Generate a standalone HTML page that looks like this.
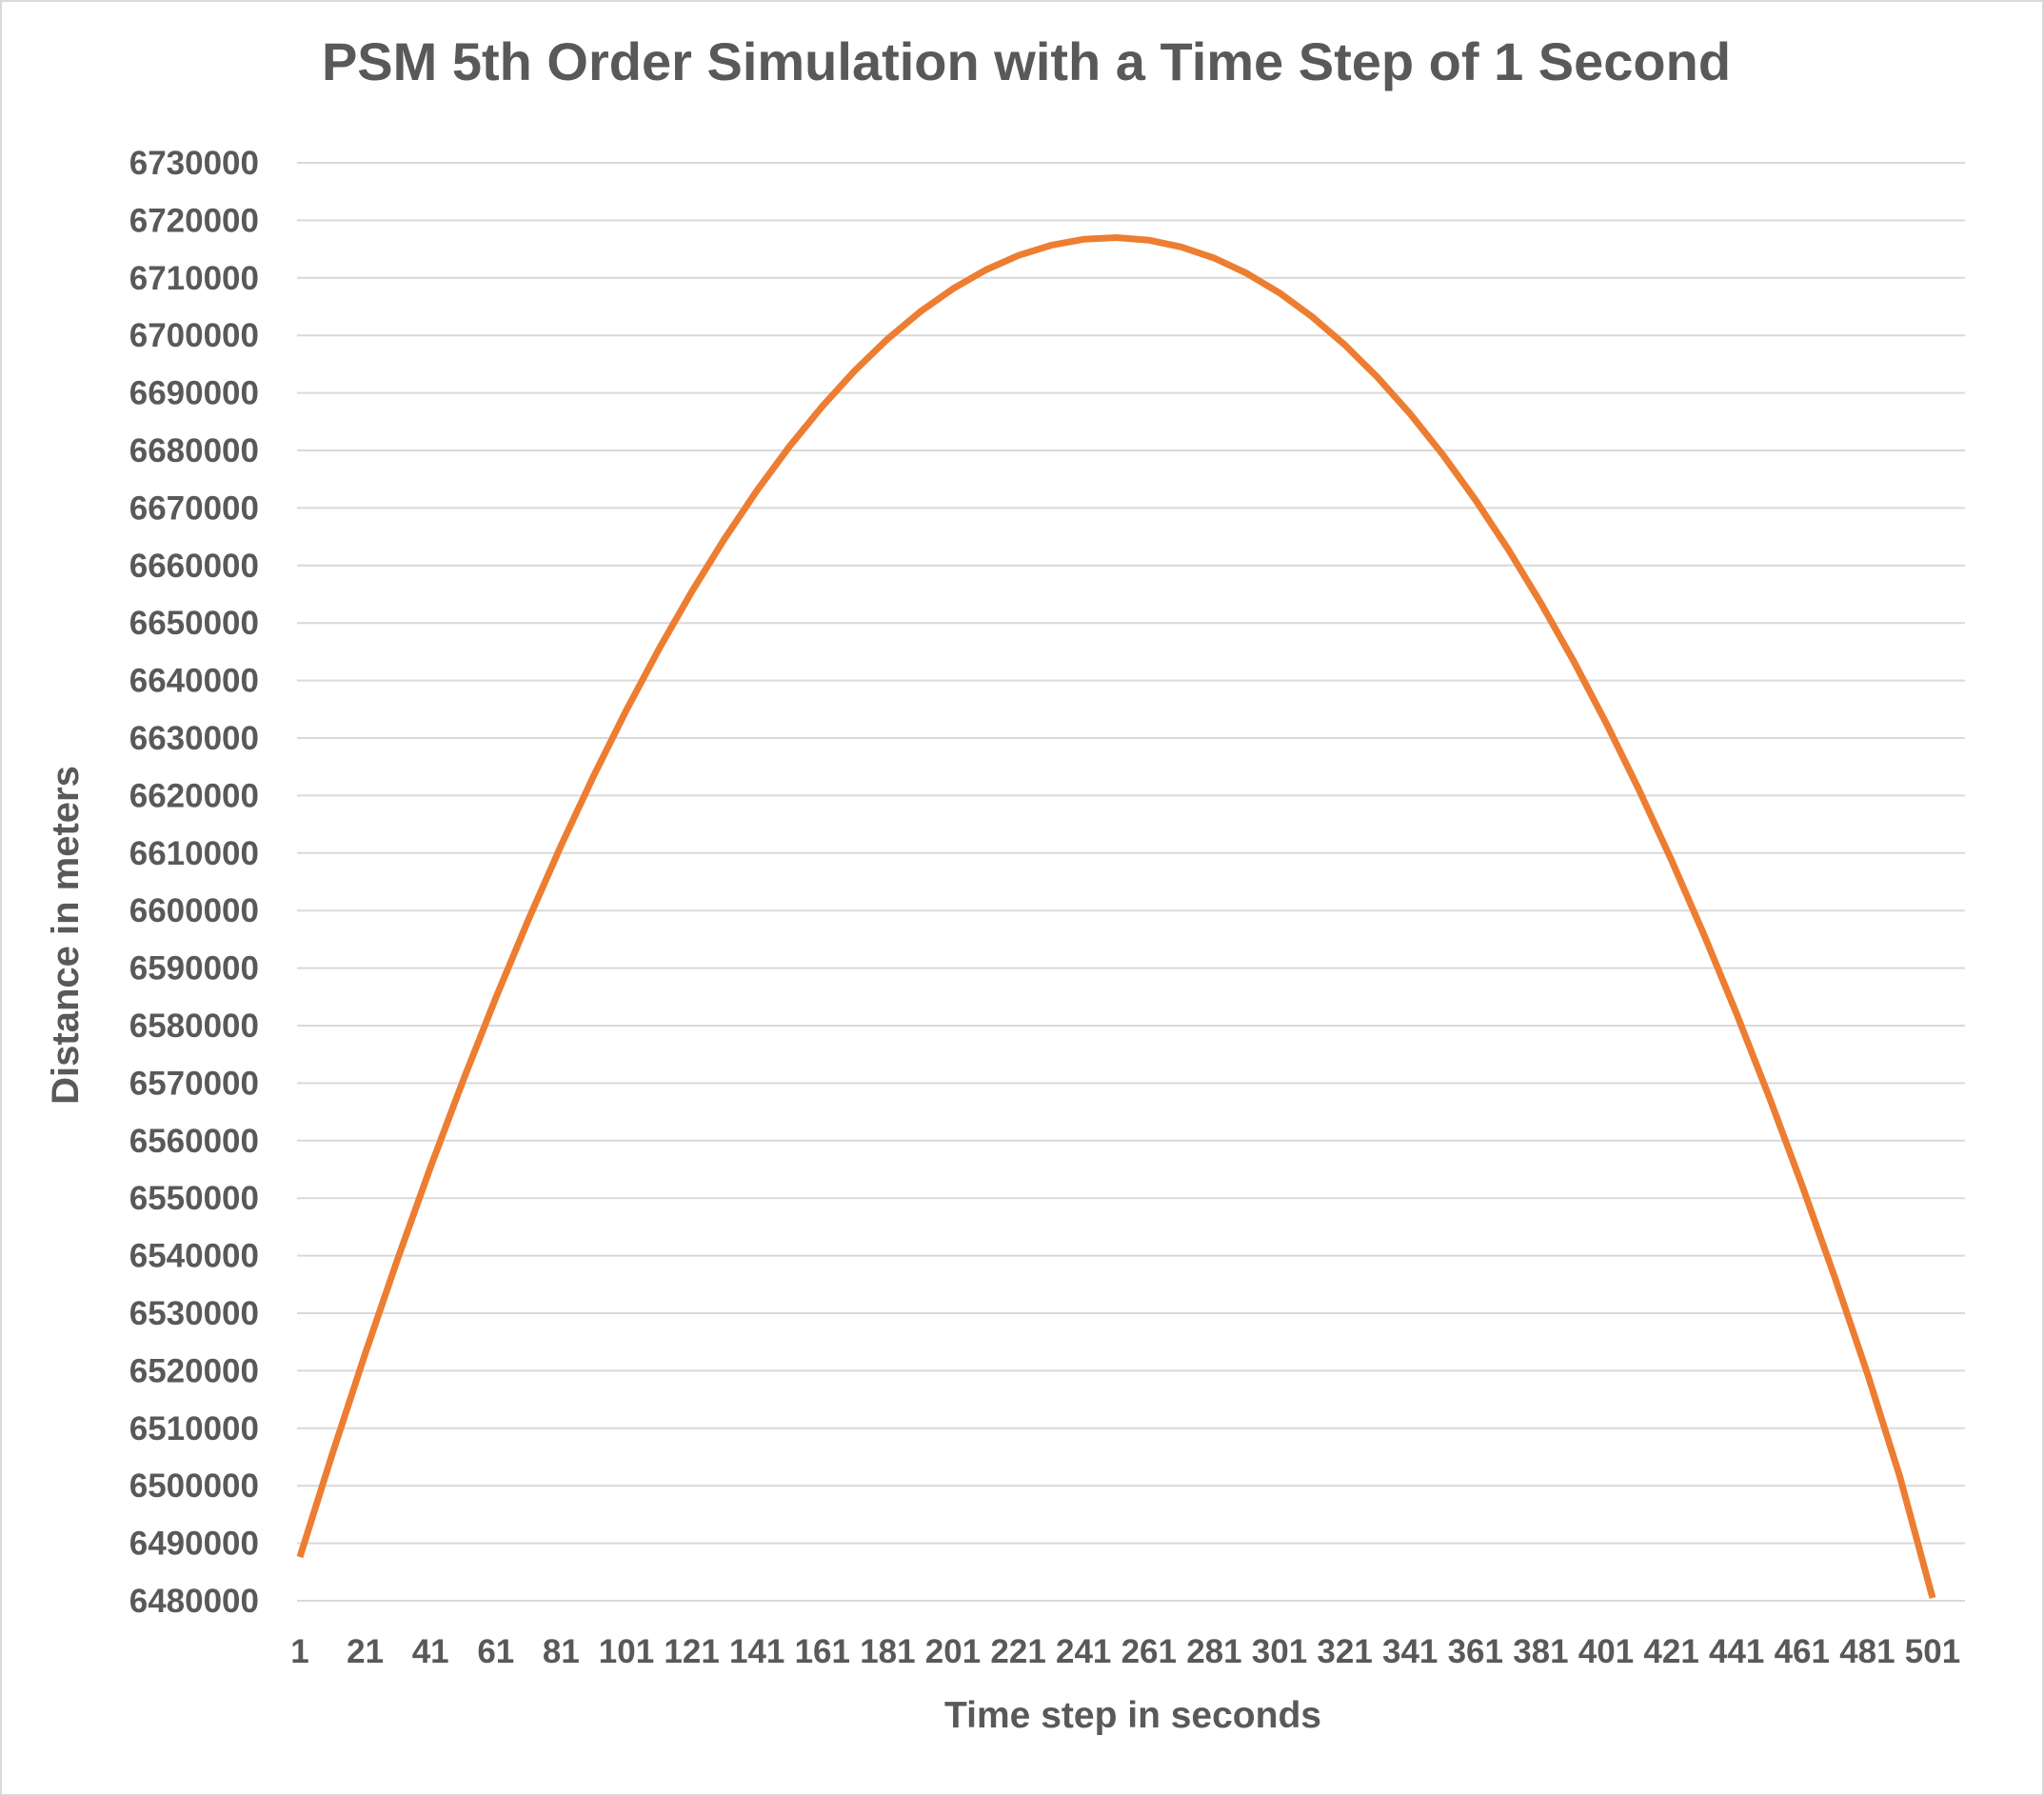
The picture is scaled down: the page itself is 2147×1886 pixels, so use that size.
<!DOCTYPE html>
<html><head><meta charset="utf-8"><style>
body{margin:0;background:#fff}
svg{display:block;font-family:"Liberation Sans",Arial,sans-serif}
</style></head><body>
<svg id="chart" width="2147" height="1886">
<rect x="1" y="1" width="2145" height="1884" fill="#fff" stroke="#d9d9d9" stroke-width="2"/>
<text x="1078" y="84" text-anchor="middle" font-size="56" font-weight="bold" fill="#595959">PSM 5th Order Simulation with a Time Step of 1 Second</text>
<text transform="translate(82,982) rotate(-90)" text-anchor="middle" font-size="40" font-weight="bold" fill="#595959">Distance in meters</text>
<text x="1190" y="1814" text-anchor="middle" font-size="39" font-weight="bold" fill="#595959">Time step in seconds</text>
<g id="grid"></g><g id="yticks"></g><g id="xticks"></g><g id="series"></g>
</svg>
<script>
const steps=[1,11,21,31,41,51,61,71,81,91,101,111,121,131,141,151,161,171,181,191,201,211,221,231,241,251,261,271,281,291,301,311,321,331,341,351,361,371,381,391,401,411,421,431,441,451,461,471,481,491,501];
const distance=[6487600,6505650,6522970,6539540,6555380,6570480,6584830,6598450,6611320,6623460,6634860,6645510,6655430,6664600,6673040,6680740,6687690,6693910,6699380,6704120,6708120,6711370,6713890,6715660,6716700,6717000,6716550,6715370,6713440,6710780,6707380,6703230,6698350,6692720,6686360,6679260,6671410,6662830,6653500,6643440,6632640,6621090,6608810,6595780,6582020,6567520,6552270,6536290,6519560,6501500,6480500];
const yTicks=[6480000,6490000,6500000,6510000,6520000,6530000,6540000,6550000,6560000,6570000,6580000,6590000,6600000,6610000,6620000,6630000,6640000,6650000,6660000,6670000,6680000,6690000,6700000,6710000,6720000,6730000];
const xTickLabels=[1,21,41,61,81,101,121,141,161,181,201,221,241,261,281,301,321,341,361,381,401,421,441,461,481,501];
const NS='http://www.w3.org/2000/svg';
const yMin=6480000,yMax=6730000,py0=1681,py1=171;
const xs=t=>315+(t-1)*(2030-315)/500;
const ys=v=>py0-(v-yMin)/(yMax-yMin)*(py0-py1);
function mk(tag,attrs,parent){const e=document.createElementNS(NS,tag);for(const k in attrs)e.setAttribute(k,attrs[k]);document.getElementById(parent).appendChild(e);return e;}
yTicks.forEach(v=>{
 const l=mk('line',{x1:312,x2:2064,y1:ys(v),y2:ys(v),stroke:'#d9d9d9','stroke-width':2},'grid');
 
 
 const t=mk('text',{x:272,y:ys(v)+12,'text-anchor':'end','font-size':35,'font-weight':'bold',fill:'#595959'},'yticks');
 t.textContent=v;
 
 
});
xTickLabels.forEach(v=>{
 const t=mk('text',{x:xs(v),y:1746,'text-anchor':'middle','font-size':35,'font-weight':'bold',fill:'#595959'},'xticks');
 t.textContent=v;
 
 
});
const pts=steps.map((t,i)=>xs(t).toFixed(1)+','+ys(distance[i]).toFixed(1)).join(' ');
const pl=mk('polyline',{points:pts,fill:'none',stroke:'#ed7d31','stroke-width':7,'stroke-linejoin':'round'},'series');


</script>
</body></html>
